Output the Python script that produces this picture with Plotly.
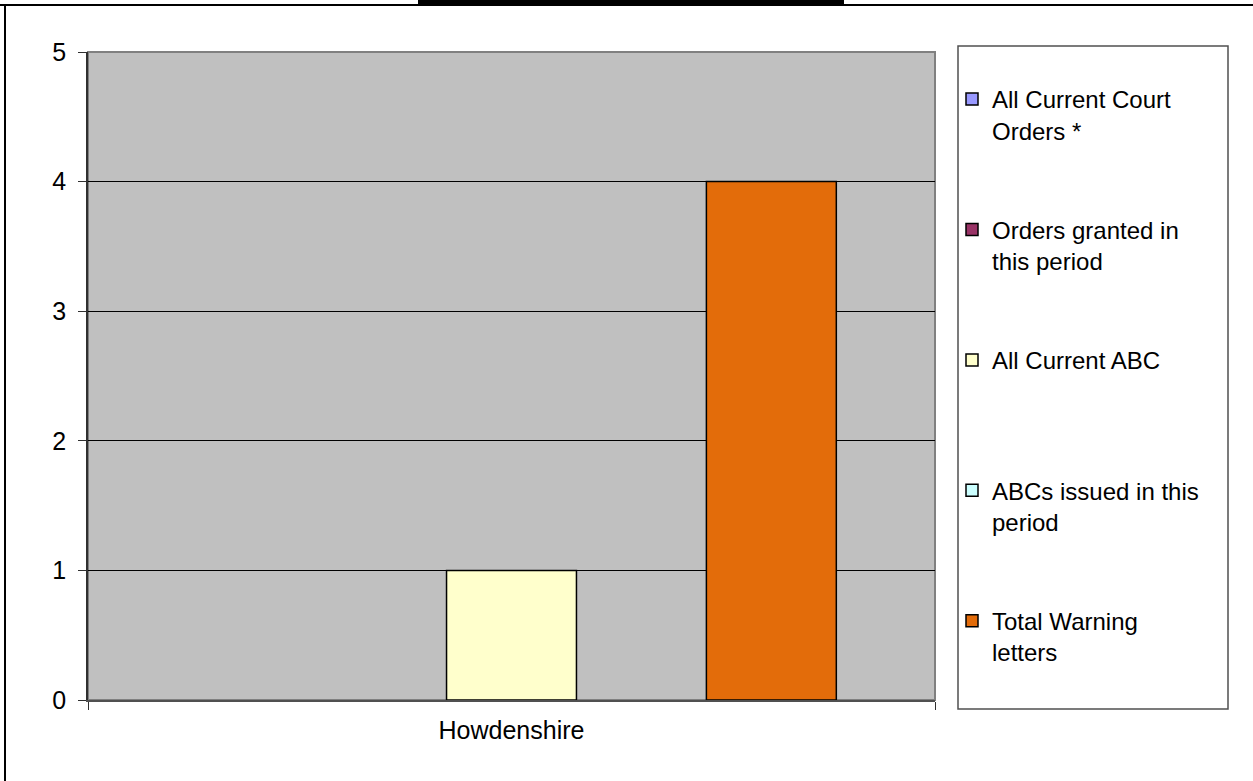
import plotly.graph_objects as go

# data
categories = ["Howdenshire"]
series_names = [
    "All Current Court<br>Orders *",
    "Orders granted in<br>this period",
    "All Current ABC<br> ",
    "ABCs issued in this<br>period",
    "Total Warning<br>letters",
]
series_values = [[0], [0], [1], [0], [4]]
series_colors = ["#9999FF", "#993366", "#FFFFCC", "#CCFFFF", "#E36C0A"]

W, H = 1253, 781
L, R, T, B = 88, 935, 52, 700  # plot area in pixels


def px(x):
    return (x - L) / (R - L)


def py(y):
    return (B - y) / (B - T)


fig = go.Figure()
for i, (name, vals, col) in enumerate(zip(series_names, series_values, series_colors)):
    # zero-height bars are not drawn at all (Excel shows nothing for them)
    yvals = [v if v else None for v in vals]
    fig.add_trace(go.Bar(
        x=categories, y=yvals, name=name,
        marker=dict(color=col, line=dict(color="black", width=1.5)),
        legendgroup=f"g{i}",
    ))

font = "Liberation Sans, Arial, sans-serif"

fig.update_layout(
    width=W, height=H,
    margin=dict(l=L, r=W - R, t=T, b=H - B),
    paper_bgcolor="white",
    plot_bgcolor="#C0C0C0",
    barmode="group",
    bargap=0.233,
    bargroupgap=0,
    font=dict(family=font, size=25, color="black"),
    legend=dict(
        x=px(952), xanchor="left",
        y=py(77), yanchor="top",
        bgcolor="rgba(0,0,0,0)",
        borderwidth=0,
        valign="top",
        tracegroupgap=65,
        font=dict(size=24),
    ),
    xaxis=dict(
        showline=True, linecolor="#505050", linewidth=1.5,
        ticks="outside", tickson="boundaries", ticklen=8, tickcolor="#303030",
        ticklabelstandoff=7,
        showgrid=False,
    ),
    yaxis=dict(
        range=[0, 5], dtick=1,
        showline=True, linecolor="#303030", linewidth=1.5,
        ticks="outside", ticklen=8, tickcolor="#303030",
        ticklabelstandoff=7,
        showgrid=True, gridcolor="black", gridwidth=1,
        zeroline=False,
    ),
    shapes=[
        # plot area border
        dict(type="rect", xref="paper", yref="paper", x0=0, x1=1, y0=0, y1=1,
             line=dict(color="#808080", width=2), layer="below"),
        # legend box
        dict(type="rect", xref="paper", yref="paper",
             x0=px(958), x1=px(1228), y0=py(709), y1=py(46),
             line=dict(color="#505050", width=1.5)),
        # outer chart frame
        dict(type="line", xref="paper", yref="paper",
             x0=px(0), x1=px(W), y0=py(5), y1=py(5),
             line=dict(color="black", width=2)),
        dict(type="line", xref="paper", yref="paper",
             x0=px(5), x1=px(5), y0=py(5), y1=py(H),
             line=dict(color="black", width=2)),
        # cut-off black bar at the top
        dict(type="rect", xref="paper", yref="paper",
             x0=px(418), x1=px(844), y0=py(4), y1=py(0),
             fillcolor="black", line=dict(width=0)),
    ],
)

# drop the browser's default 8px body margin so the figure sits at 0,0
fig.write_html("out.html", config={"displayModeBar": False},
               post_script="document.body.style.margin='0';")
